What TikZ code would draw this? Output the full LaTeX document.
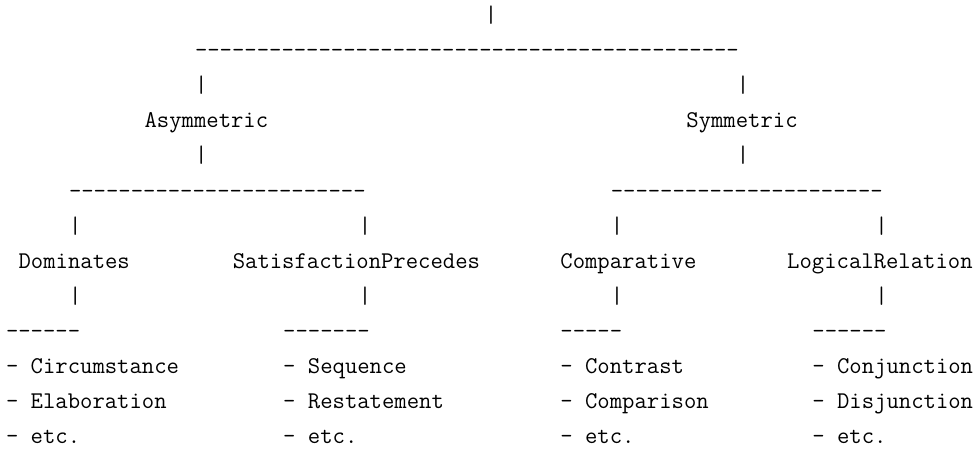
\documentclass[tikz,border=0pt]{standalone}
\newcount\dcnt
\newcommand\dashrun[1]{\dcnt=0 \loop -\kern0pt\advance\dcnt by 1 \ifnum\dcnt<#1 \repeat}
% column / row placement on the monospace grid
\newcommand\tok[4]{\node[txt] (#1) at ({6+#2*12.6},{-(128+(#3-4)*35)}) {#4};}
\tikzset{txt/.style={anchor=base west, inner sep=0pt, outer sep=0pt, font=\ttfamily\fontsize{24}{35}\selectfont}}
\begin{document}
\begin{tikzpicture}[x=1pt,y=1pt]
\useasboundingbox (0,0) rectangle (979,-449);
% level 0
\tok{p0}{38}{1}{|}
\tok{d0}{15}{2}{\dashrun{44}}
\tok{p1a}{15}{3}{|}
\tok{p1b}{58}{3}{|}
% level 1
\tok{asym}{11}{4}{Asymmetric}
\tok{sym}{54}{4}{Symmetric}
\tok{p2a}{15}{5}{|}
\tok{p2b}{58}{5}{|}
\tok{d1a}{5}{6}{\dashrun{24}}
\tok{d1b}{48}{6}{\dashrun{22}}
\tok{p3a}{5}{7}{|}
\tok{p3b}{28}{7}{|}
\tok{p3c}{48}{7}{|}
\tok{p3d}{69}{7}{|}
% level 2
\tok{dom}{1}{8}{Dominates}
\tok{sat}{18}{8}{SatisfactionPrecedes}
\tok{comp}{44}{8}{Comparative}
\tok{logi}{62}{8}{LogicalRelation}
\tok{p4a}{5}{9}{|}
\tok{p4b}{28}{9}{|}
\tok{p4c}{48}{9}{|}
\tok{p4d}{69}{9}{|}
\tok{d2a}{0}{10}{\dashrun{6}}
\tok{d2b}{22}{10}{\dashrun{7}}
\tok{d2c}{44}{10}{\dashrun{5}}
\tok{d2d}{64}{10}{\dashrun{6}}
% leaves
\tok{a1}{0}{11}{- Circumstance}
\tok{a2}{0}{12}{- Elaboration}
\tok{a3}{0}{13}{- etc.}
\tok{b1}{22}{11}{- Sequence}
\tok{b2}{22}{12}{- Restatement}
\tok{b3}{22}{13}{- etc.}
\tok{c1}{44}{11}{- Contrast}
\tok{c2}{44}{12}{- Comparison}
\tok{c3}{44}{13}{- etc.}
\tok{e1}{64}{11}{- Conjunction}
\tok{e2}{64}{12}{- Disjunction}
\tok{e3}{64}{13}{- etc.}
\end{tikzpicture}
\end{document}
